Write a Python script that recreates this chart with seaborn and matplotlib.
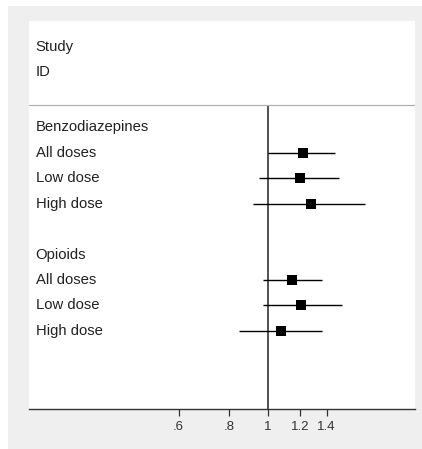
import pandas as pd
import matplotlib.pyplot as plt
import matplotlib.transforms as mtransforms
import matplotlib.patches as mpatches
import seaborn as sns

# rows of the forest plot (top to bottom)
labels = ["Benzodiazepines", "All doses", "Low dose", "High dose", "",
          "Opioids", "All doses", "Low dose", "High dose"]
est_rows = [1, 2, 3, 6, 7, 8]
estimates = [1.22, 1.20, 1.28, 1.15, 1.21, 1.08]
ci_low = [1.00, 0.95, 0.92, 0.97, 0.97, 0.85]
ci_high = [1.47, 1.50, 1.74, 1.36, 1.53, 1.36]
xticks = [0.6, 0.8, 1.0, 1.2, 1.4]
xtick_labels = [".6", ".8", "1", "1.2", "1.4"]

df = pd.DataFrame({"row": est_rows, "est": estimates, "lo": ci_low, "hi": ci_high})

sns.set_style("white")
plt.rcParams['font.family'] = ['Liberation Sans', 'DejaVu Sans']

fig = plt.figure(figsize=(4.22, 4.49), dpi=100, facecolor="white")
# grey plot region (white margin at top and left as in the original)
fig.patches.append(mpatches.Rectangle((8 / 422, 0), 1, 443 / 449,
                                      transform=fig.transFigure,
                                      facecolor="#efefef", edgecolor="none", zorder=-10))
ax = fig.add_axes([29 / 422, 40 / 449, 386 / 422, 388 / 449])
ax.set_facecolor("white")

ax.set_xscale("log")
ax.set_xlim(0.255, 2.32)
ax.set_ylim(11.06, -4.16)

# confidence intervals
ax.hlines(df["row"], df["lo"], df["hi"], color="black", linewidth=1.0, zorder=2)
sns.scatterplot(data=df, x="est", y="row", marker="s", s=55, color="black",
                edgecolor="black", linewidth=0, ax=ax, zorder=3, legend=False)

# null line and header separator
ax.vlines(1.0, -0.86, 11.06, color="#222222", linewidth=1.1, zorder=1)
ax.axhline(-0.86, color="#b0b0b0", linewidth=0.9)

trans = mtransforms.blended_transform_factory(ax.transAxes, ax.transData)
for i, lab in enumerate(labels):
    if lab:
        ax.text(0.017, i, lab, transform=trans, va="center", ha="left",
                fontsize=10.7, color="#222222")
ax.text(0.017, -3.14, "Study", transform=trans, va="center", ha="left",
        fontsize=10.7, color="#222222")
ax.text(0.017, -2.16, "ID", transform=trans, va="center", ha="left",
        fontsize=10.7, color="#222222")

ax.set_xticks(xticks)
ax.set_xticklabels(xtick_labels, family=['Liberation Sans Narrow', 'Liberation Sans'])
ax.minorticks_off()
ax.tick_params(axis="x", direction="out", length=5, width=0.9, colors="#333333",
               labelsize=9.5, pad=4, bottom=True)
ax.set_yticks([])
ax.set_xlabel("")
ax.set_ylabel("")
for side in ["top", "left", "right"]:
    ax.spines[side].set_visible(False)
ax.spines["bottom"].set_color("#333333")
ax.spines["bottom"].set_linewidth(1.0)

fig.savefig("out.png", dpi=100, facecolor=fig.get_facecolor())
